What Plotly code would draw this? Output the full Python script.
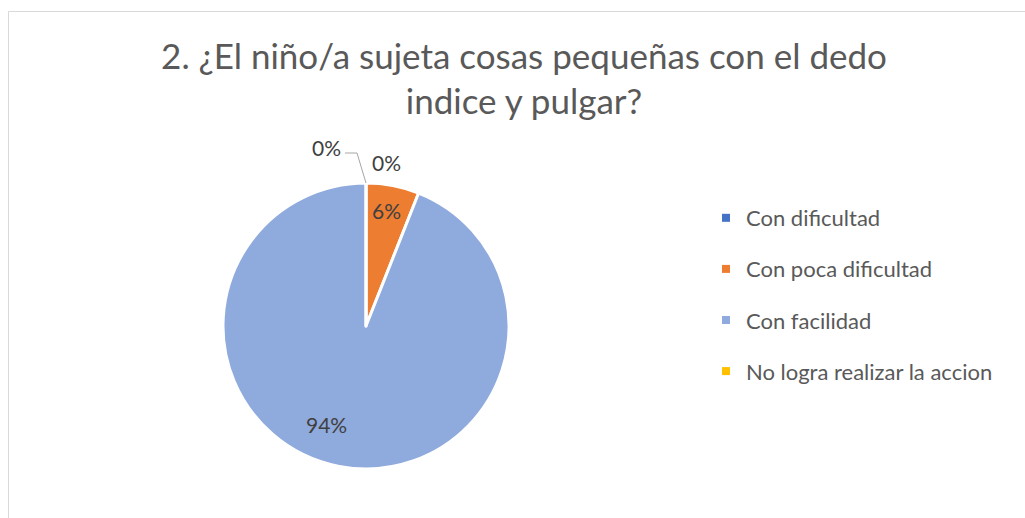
import plotly.graph_objects as go

# datos de la pregunta 2
categorias = ["Con dificultad", "Con poca dificultad", "Con facilidad", "No logra realizar la accion"]
porcentajes = [0, 6, 94, 0]
colores = ["#4472C4", "#ED7D31", "#8FAADC", "#FFC000"]
titulo = "2. ¿El niño/a sujeta cosas pequeñas con el dedo<br>indice y pulgar?"

# posiciones de las etiquetas (pixeles, como en el original)
pos_etiquetas = [(326, 147), (386, 211), (326, 424), (386, 163)]

W, H = 1025, 518
cx, cy, r = 366, 326, 143

def px(x):
    return x / W

def py(y):
    return 1 - y / H

fig = go.Figure()

fig.add_trace(go.Pie(
    labels=categorias,
    values=porcentajes,
    sort=False,
    direction="clockwise",
    rotation=0,
    marker=dict(colors=colores, line=dict(color="white", width=3)),
    textinfo="none",
    showlegend=False,
    hoverinfo="label+percent",
    domain=dict(x=[px(cx - r), px(cx + r)], y=[py(cy + r), py(cy - r)]),
))

# leyenda con trazas vacias para poder separar las entradas
for cat, col in zip(categorias, colores):
    fig.add_trace(go.Scatter(
        x=[None], y=[None], mode="markers", name=cat, legendgroup=cat,
        marker=dict(symbol="square", size=8, color=col),
    ))

# etiquetas de porcentaje
for v, (lx, ly) in zip(porcentajes, pos_etiquetas):
    fig.add_annotation(x=px(lx), y=py(ly), xref="paper", yref="paper",
                       text=f"{v}%", showarrow=False, xanchor="center", yanchor="middle",
                       font=dict(size=21, color="#404040", family="Lato"))

# linea guia de la etiqueta 0% izquierda
fig.add_shape(type="path", xref="paper", yref="paper",
              path=f"M {px(345)} {py(153)} L {px(357)} {py(153)} L {px(366)} {py(183)}",
              line=dict(color="#A6A6A6", width=1))

# borde del grafico
fig.add_shape(type="rect", xref="paper", yref="paper",
              x0=px(8.5), y0=-0.1, x1=1.1, y1=py(11.5),
              line=dict(color="#D9D9D9", width=1))

fig.update_layout(
    width=W, height=H,
    margin=dict(l=0, r=0, t=0, b=0),
    paper_bgcolor="white",
    plot_bgcolor="white",
    font=dict(family="Lato", color="#595959"),
    title=dict(text=titulo, x=px(524), xanchor="center", y=py(68.5), yanchor="middle",
               font=dict(size=35, color="#595959", family="Lato")),
    xaxis=dict(visible=False),
    yaxis=dict(visible=False),
    legend=dict(x=px(706), y=py(197), xanchor="left", yanchor="top",
                font=dict(size=22, color="#595959", family="Lato"),
                tracegroupgap=19.5, itemwidth=30, bgcolor="rgba(0,0,0,0)"),
)

fig.write_html("out.html", config={"displayModeBar": False},
               post_script="document.body.style.margin='0';")
